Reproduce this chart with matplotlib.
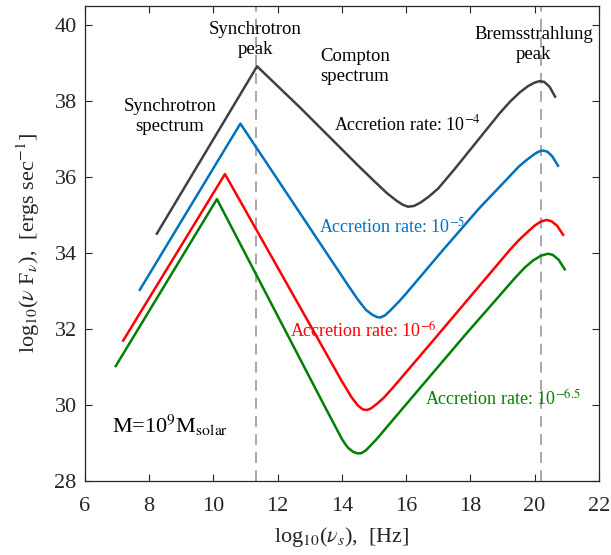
import matplotlib
matplotlib.use("Agg")
import matplotlib.pyplot as plt

plt.rcParams['font.family'] = ['Liberation Serif', 'DejaVu Serif']
plt.rcParams['mathtext.fontset'] = 'stix'

# ---- data ----
gray_x = [8.24, 11.36, 12.69, 14.5, 15.0, 15.4, 15.7, 15.9, 16.06, 16.25, 16.45, 16.7, 17.0, 17.5,
          18.3, 18.92, 19.25, 19.55, 19.8, 20.0, 20.16, 20.3, 20.47, 20.64]
gray_y = [34.51, 38.92, 37.84, 36.31, 35.90, 35.58, 35.38, 35.27, 35.22, 35.24, 35.33, 35.48, 35.70, 36.20,
          37.04, 37.69, 38.00, 38.24, 38.40, 38.49, 38.53, 38.51, 38.38, 38.12]

blue_x = [7.71, 10.84, 14.2, 14.5, 14.75, 14.95, 15.1, 15.2, 15.35, 15.55, 15.8, 16.0, 17.15,
          18.3, 18.92, 19.2, 19.5, 19.75, 20.0, 20.15, 20.26, 20.4, 20.55, 20.73]
blue_y = [33.03, 37.41, 33.14, 32.77, 32.50, 32.37, 32.31, 32.30, 32.36, 32.52, 32.74, 32.93, 34.08,
          35.20, 35.75, 36.00, 36.27, 36.45, 36.61, 36.68, 36.70, 36.67, 36.55, 36.30]

red_x = [7.19, 10.36, 13.5, 14.0, 14.3, 14.5, 14.65, 14.77, 14.9, 15.1, 15.3, 15.6, 16.84,
         19.23, 19.5, 19.75, 20.0, 20.2, 20.37, 20.52, 20.7, 20.89]
red_y = [31.69, 36.08, 31.37, 30.62, 30.20, 29.98, 29.88, 29.86, 29.90, 30.03, 30.18, 30.46, 31.69,
         34.08, 34.33, 34.53, 34.72, 34.83, 34.87, 34.84, 34.72, 34.48]

green_x = [6.96, 10.11, 13.52, 14.0, 14.1, 14.2, 14.35, 14.48, 14.6, 14.75, 14.9, 15.1, 15.86, 17.88,
           19.4, 19.7, 19.95, 20.2, 20.42, 20.57, 20.75, 20.94]
green_y = [31.02, 35.42, 29.87, 29.10, 28.97, 28.86, 28.76, 28.72, 28.72, 28.80, 28.93, 29.11, 29.87, 31.88,
           33.35, 33.62, 33.80, 33.93, 33.98, 33.95, 33.82, 33.57]

peak_lines = [11.34, 20.19]

xticks = [6, 8, 10, 12, 14, 16, 18, 20, 22]
yticks = [28, 30, 32, 34, 36, 38, 40]

c_gray = '#404040'
c_blue = '#0072BD'
c_red = '#FF0000'
c_green = '#008000'

fig = plt.figure(figsize=(6.11, 5.55), dpi=100)
ax = fig.add_axes([0.139, 0.134, 0.841, 0.8545])

for xv in peak_lines:
    ax.axvline(xv, color='#A0A0A0', lw=1.3, ls=(0, (6, 4)), zorder=1)

lw = 1.8
ax.plot(gray_x, gray_y, color=c_gray, lw=lw, zorder=3)
ax.plot(blue_x, blue_y, color=c_blue, lw=lw, zorder=3)
ax.plot(red_x, red_y, color=c_red, lw=lw, zorder=3)
ax.plot(green_x, green_y, color=c_green, lw=lw, zorder=3)

ax.set_xlim(6, 22)
ax.set_ylim(28, 40.5)
ax.set_xticks(xticks)
ax.set_yticks(yticks)
ax.tick_params(direction='in', top=True, right=True, labelsize=16, length=5,
               width=0.8, colors='#262626', labelcolor='#262626')
ax.tick_params(axis='x', pad=12)
ax.tick_params(axis='y', pad=6)
for s in ax.spines.values():
    s.set_color('#262626')
    s.set_linewidth(0.9)

ax.set_xlabel(r'log$_{10}$($\nu_s$),  [Hz]', fontsize=16, color='#262626', labelpad=6)
ax.set_ylabel(r'log$_{10}$($\nu$ F$_\nu$),  [ergs sec$^{-1}$]', fontsize=16, color='#262626', labelpad=9)

tfs = 13.5
ax.text(8.65, 37.6, 'Synchrotron\nspectrum', ha='center', va='center', fontsize=tfs, linespacing=1.25)
ax.text(11.3, 39.62, 'Synchrotron\npeak', ha='center', va='center', fontsize=tfs, linespacing=1.25)
ax.text(13.34, 38.92, 'Compton\nspectrum', ha='left', va='center', fontsize=tfs, linespacing=1.25)
ax.text(19.97, 39.49, 'Bremsstrahlung\npeak', ha='center', va='center', fontsize=tfs, linespacing=1.25)

afs = 13
ax.text(13.75, 37.39, r'Accretion rate: 10$^{-4}$', ha='left', va='center', fontsize=afs, color='black')
ax.text(13.28, 34.70, r'Accretion rate: 10$^{-5}$', ha='left', va='center', fontsize=afs, color=c_blue)
ax.text(12.39, 31.93, r'Accretion rate: 10$^{-6}$', ha='left', va='center', fontsize=afs, color=c_red)
ax.text(16.60, 30.13, r'Accretion rate: 10$^{-6.5}$', ha='left', va='center', fontsize=afs, color=c_green)

ax.text(6.85, 29.27, r'M=10$^9$M$_{\rm solar}$', ha='left', va='baseline', fontsize=16, color='black')

fig.savefig('out.png', dpi=100)
